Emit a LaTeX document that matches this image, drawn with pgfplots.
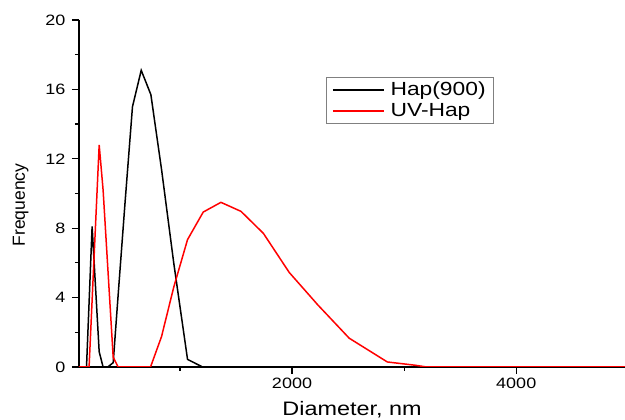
\documentclass[border=0pt]{standalone}
\usepackage{pgfplots}
\pgfplotsset{compat=1.18}
\usepackage{fontspec}
\setmainfont[FakeStretch=1.2]{Liberation Sans}
\newfontfamily\ylabfont{Liberation Sans}

\begin{document}
\begin{tikzpicture}
\begin{axis}[
  at={(79pt,53pt)}, anchor=south west,
  scale only axis, width=546pt, height=347pt,
  xmin=100, xmax=4970, ymin=0, ymax=20,
  axis lines=left, axis line style={-, line width=1.3pt},
  xtick={2000,4000}, minor xtick={1000,3000},
  ytick={0,4,...,20}, minor ytick={2,6,...,18},
  tick align=outside, major tick length=7pt, minor tick length=4pt,
  every tick/.style={black, line width=1.2pt},
  tick label style={font=\fontsize{15}{18}\selectfont},
  yticklabel style={xshift=-3pt},
  /pgf/number format/assume math mode=true,
  /pgf/number format/1000 sep={},
  xlabel={Diameter, nm}, ylabel={Frequency},
  xlabel style={font=\fontsize{19.5}{22}\selectfont, at={(axis description cs:0.5,-0.141)}, anchor=base},
  ylabel style={font=\ylabfont\fontsize{17.5}{20}\selectfont, at={(axis description cs:-0.099,0.467)}, anchor=base},
  legend style={at={(axis description cs:0.452,0.836)}, anchor=north west, draw=gray, line width=0.6pt,
    font=\fontsize{19}{21}\selectfont, inner xsep=6pt, inner ysep=3pt, row sep=2pt, column sep=4pt},
  legend cell align=left,
  legend image code/.code={\draw[#1] (0pt,0pt) -- (51pt,0pt);},
]
% Hap(900)
\addplot[black, line width=1.5pt] coordinates {
  (100,0) (167,0) (217,8.1) (280,0.88) (315,0) (357,0) (405,0.25) (452,4.4)
  (511,9.5) (577,15.0) (655,17.1) (741,15.7) (836,11.4) (945,6.0) (1068,0.44)
  (1202,0) (4970,0)
};
% UV-Hap
\addplot[red, line width=1.5pt] coordinates {
  (100,0) (190,0) (280,12.8) (315,10.2) (405,0.56) (449,0) (738,0) (836,1.75)
  (945,4.6) (1068,7.34) (1208,8.93) (1366,9.49) (1545,8.97) (1745,7.7)
  (1975,5.45) (2230,3.58) (2510,1.66) (2850,0.29) (3100,0.1) (3200,0) (4970,0)
};
\legend{Hap(900), UV-Hap}
\end{axis}
\pgfresetboundingbox
\path[use as bounding box] (0,0) rectangle (625pt,420pt);
\end{tikzpicture}
\end{document}
